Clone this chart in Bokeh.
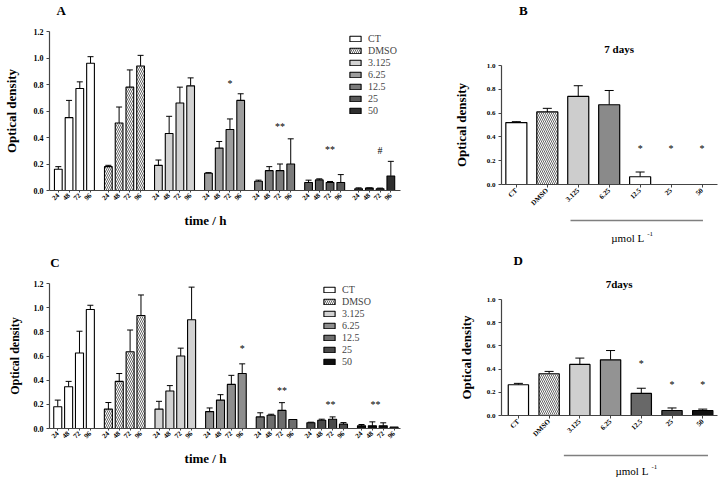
import math

from bokeh.core.properties import value
from bokeh.embed import file_html
from bokeh.layouts import column, row
from bokeh.models import (ColumnDataSource, FixedTicker, Legend, LegendItem,
                          PrintfTickFormatter, Range1d, TeeHead, Whisker)
from bokeh.plotting import figure
from bokeh.resources import INLINE

SERIF = "Liberation Serif"

# ---------------------------------------------------------------- data
treatments = ["CT", "DMSO", "3.125", "6.25", "12.5", "25", "50"]
hours = ["24", "48", "72", "96"]
od_ticks_time = [0.0, 0.2, 0.4, 0.6, 0.8, 1.0, 1.2]
od_ticks_dose = [0.0, 0.2, 0.4, 0.6, 0.8, 1.0]

# Panel A: optical density per treatment (rows) and exposure time (columns)
a_mean = [
    [0.16, 0.55, 0.77, 0.96],
    [0.18, 0.51, 0.78, 0.94],
    [0.19, 0.43, 0.66, 0.79],
    [0.13, 0.32, 0.46, 0.68],
    [0.07, 0.15, 0.15, 0.20],
    [0.06, 0.08, 0.06, 0.06],
    [0.013, 0.018, 0.013, 0.11],
]
a_sd = [
    [0.02, 0.13, 0.05, 0.05],
    [0.01, 0.12, 0.13, 0.08],
    [0.04, 0.13, 0.12, 0.06],
    [0.005, 0.05, 0.08, 0.05],
    [0.008, 0.03, 0.05, 0.19],
    [0.018, 0.008, 0.008, 0.06],
    [0.007, 0.002, 0.005, 0.11],
]
a_mark_group = [3, 4, 5, 6]
a_mark_hour = [2, 2, 2, 2]
a_mark_y = [0.81, 0.48, 0.31, 0.30]
a_mark_text = ["*", "**", "**", "#"]

# Panel C: second time course
c_mean = [
    [0.18, 0.345, 0.625, 0.985],
    [0.16, 0.39, 0.635, 0.935],
    [0.16, 0.31, 0.60, 0.90],
    [0.14, 0.235, 0.365, 0.455],
    [0.096, 0.11, 0.15, 0.074],
    [0.047, 0.068, 0.077, 0.036],
    [0.022, 0.022, 0.022, 0.011],
]
c_sd = [
    [0.055, 0.045, 0.18, 0.035],
    [0.055, 0.065, 0.18, 0.17],
    [0.065, 0.045, 0.065, 0.27],
    [0.03, 0.045, 0.075, 0.08],
    [0.034, 0.008, 0.064, 0.0],
    [0.005, 0.009, 0.019, 0.013],
    [0.011, 0.033, 0.025, 0.0],
]
c_mark_group = [3, 4, 5, 6]
c_mark_hour = [3, 2, 1.8, 1.3]
c_mark_y = [0.66, 0.315, 0.20, 0.20]
c_mark_text = ["*", "**", "**", "**"]

# Panels B and D: 7 days of exposure
b_mean = [0.52, 0.61, 0.74, 0.67, 0.065, 0.0, 0.0]
b_sd = [0.008, 0.03, 0.09, 0.12, 0.04, 0.0, 0.0]
b_mark_idx = [4, 5, 6]
b_mark_y = [0.30, 0.30, 0.30]

d_mean = [0.265, 0.36, 0.44, 0.48, 0.19, 0.043, 0.043]
d_sd = [0.012, 0.02, 0.055, 0.08, 0.045, 0.022, 0.012]
d_mark_idx = [4, 5, 6]
d_mark_y = [0.45, 0.27, 0.27]

# treated concentrations covered by the grey rule (first, last category)
b_rule = [1.75, 6.03]
d_rule = [1.48, 6.17]

# ---------------------------------------------------------------- styles
a_colors = ["white", "white", "#d2d2d2", "#9d9d9d", "#7b7b7b", "#595959", "#2e2e2e"]
c_colors = ["white", "white", "#d2d2d2", "#8e8e8e", "#6e6e6e", "#4a4a4a", "#0f0f0f"]
b_colors = ["white", "white", "#cdcdcd", "#8a8a8a", "white", "white", "white"]
d_colors = ["white", "white", "#cfcfcf", "#939393", "#686868", "#454545", "#111111"]

GROUP_STEP = 4.66
AXIS_COLOR = "#444444"


def bar_x(g, i):
    return round(g * GROUP_STEP + i, 3)


def hatch_kw(name):
    if name == "DMSO":
        return dict(hatch_pattern="\\", hatch_color="#555555", hatch_scale=4, hatch_weight=0.9)
    return {}


def style_axes(p, yticks, ylabel_size, ylabel_standoff):
    for ax in (p.xaxis[0], p.yaxis[0]):
        ax.axis_line_color = AXIS_COLOR
        ax.axis_line_width = 1.2
        ax.major_tick_line_color = AXIS_COLOR
        ax.major_tick_line_width = 1
        ax.minor_tick_line_color = None
        ax.major_tick_in = 0
        ax.major_label_text_font = SERIF
        ax.major_label_text_font_style = "bold"
        ax.major_label_text_color = "black"
    p.yaxis.major_tick_out = 3
    p.xaxis.major_tick_out = 2
    p.yaxis.ticker = FixedTicker(ticks=yticks)
    p.yaxis.formatter = PrintfTickFormatter(format="%.1f")
    p.yaxis.major_label_text_font_size = "8px"
    p.yaxis.major_label_standoff = 3
    p.yaxis.axis_label = "Optical density"
    p.yaxis.axis_label_text_font = SERIF
    p.yaxis.axis_label_text_font_style = "bold"
    p.yaxis.axis_label_text_font_size = f"{ylabel_size}px"
    p.yaxis.axis_label_text_color = "black"
    p.yaxis.axis_label_standoff = ylabel_standoff
    p.xaxis.major_label_orientation = math.pi / 4
    p.xaxis.major_label_text_font_size = "7px"
    p.xaxis.major_label_standoff = 2
    p.xgrid.visible = False
    p.ygrid.visible = False
    p.outline_line_color = None


def add_whiskers(p, xs, tops, sds, head=7):
    keep = [k for k, s in enumerate(sds) if s > 0]
    src = ColumnDataSource(dict(
        x=[xs[k] for k in keep],
        low=[tops[k] for k in keep],
        up=[tops[k] + sds[k] for k in keep],
    ))
    p.add_layout(Whisker(source=src, base="x", lower="low", upper="up", dimension="height",
                         line_color="black", line_width=1, lower_head=None,
                         upper_head=TeeHead(size=head, line_color="black", line_width=1)))


def strip(width, height, x_range=None, left=0, right=0):
    """Axis-free band used for panel letters, headings and axis titles."""
    xr = x_range if x_range is not None else Range1d(0, width)
    s = figure(width=width, height=height, x_range=xr, y_range=Range1d(height, 0),
               x_axis_type=None, y_axis_type=None, output_backend="svg",
               toolbar_location=None, title=None, min_border=0,
               min_border_left=left, min_border_right=right)
    s.outline_line_color = None
    s.background_fill_color = "white"
    s.border_fill_color = "white"
    return s


def put_text(s, x, y, text, size, bold=True, align="left", baseline="middle"):
    s.text(x=[x], y=[y], text=[text], text_font=value(SERIF), text_font_size=f"{size}px",
           text_font_style="bold" if bold else "normal", text_align=align,
           text_baseline=baseline, text_color="black")


def time_panel(mean, sd, colors, mk_group, mk_hour, mk_y, mk_text, *, width, height,
               border, x_lo, x_hi, bar_w, legend_at, ylabel_size, ylabel_standoff):
    left, right, top, bottom = border
    p = figure(width=width, height=height, x_range=Range1d(x_lo, x_hi),
               y_range=Range1d(0, 1.2), output_backend="svg", toolbar_location=None,
               title=None, min_border_left=left, min_border_right=right,
               min_border_top=top, min_border_bottom=bottom)
    p.background_fill_color = "white"
    p.border_fill_color = "white"

    ticks, overrides, items = [], {}, []
    for g, name in enumerate(treatments):
        xs = [bar_x(g, i) for i in range(len(hours))]
        src = ColumnDataSource(dict(x=xs, top=mean[g]))
        r = p.vbar(x="x", top="top", width=bar_w, source=src, fill_color=colors[g],
                   line_color="black", line_width=1.1, **hatch_kw(name))
        add_whiskers(p, xs, mean[g], sd[g], head=6)
        items.append(LegendItem(label=name, renderers=[r]))
        for x, h in zip(xs, hours):
            ticks.append(x)
            overrides[x] = h

    mx = [bar_x(g, h) for g, h in zip(mk_group, mk_hour)]
    p.text(x=mx, y=mk_y, text=mk_text, text_font=value(SERIF), text_font_size="10px",
           text_align="center", text_baseline="middle", text_color="black")

    style_axes(p, od_ticks_time, ylabel_size, ylabel_standoff)
    p.xaxis.ticker = FixedTicker(ticks=ticks)
    p.xaxis.major_label_overrides = overrides

    legend = Legend(items=items, location=legend_at, orientation="vertical",
                    label_text_font=SERIF, label_text_font_size="10px",
                    glyph_width=14, glyph_height=7, label_height=10, label_standoff=6,
                    spacing=1, padding=0, margin=0, border_line_color=None,
                    background_fill_alpha=0)
    p.add_layout(legend)
    return p


def dose_panel(mean, sd, colors, mk_idx, mk_y, *, width, height, border, x_lo, x_hi,
               bar_w, ylabel_standoff):
    left, right, top, bottom = border
    p = figure(width=width, height=height, x_range=Range1d(x_lo, x_hi),
               y_range=Range1d(0, 1.0), output_backend="svg", toolbar_location=None,
               title=None, min_border_left=left, min_border_right=right,
               min_border_top=top, min_border_bottom=bottom)
    p.background_fill_color = "white"
    p.border_fill_color = "white"

    xs = list(range(len(treatments)))
    for i, name in enumerate(treatments):
        if mean[i] <= 0:
            continue
        p.vbar(x=[i], top=[mean[i]], width=bar_w, fill_color=colors[i],
               line_color="black", line_width=1.2, **hatch_kw(name))
    add_whiskers(p, xs, mean, sd, head=9)

    p.text(x=mk_idx, y=mk_y, text=["*"] * len(mk_idx), text_font=value(SERIF),
           text_font_size="10px", text_align="center", text_baseline="middle",
           text_color="black")

    style_axes(p, od_ticks_dose, 13, ylabel_standoff)
    p.yaxis.major_label_text_font_size = "7px"
    p.xaxis.ticker = FixedTicker(ticks=xs)
    p.xaxis.major_label_overrides = {i: n for i, n in enumerate(treatments)}
    p.xaxis.major_tick_out = 3
    return p


def unit_strip(panel, rule, width, height, left, right, rule_y, text_y, text_x):
    """Grey rule under the treated concentrations plus the concentration unit."""
    s = strip(width, height, x_range=panel.x_range, left=left, right=right)
    s.segment(x0=[rule[0]], y0=[rule_y], x1=[rule[1]], y1=[rule_y],
              line_color="#7f7f7f", line_width=1.5)
    put_text(s, text_x, text_y, "µmol L", 11, bold=False, align="right")
    put_text(s, text_x + 0.1, text_y - 4, "-1", 7, bold=False, align="left")
    return s


# ---------------------------------------------------------------- left column
pa = time_panel(a_mean, a_sd, a_colors, a_mark_group, a_mark_hour, a_mark_y, a_mark_text,
                width=450, height=187, border=(43, 47, 11, 17), x_lo=-0.82, x_hi=31.86,
                bar_w=0.72, legend_at=(299, 74), ylabel_size=13, ylabel_standoff=12)
pc = time_panel(c_mean, c_sd, c_colors, c_mark_group, c_mark_hour, c_mark_y, c_mark_text,
                width=450, height=173, border=(39, 50, 11, 17), x_lo=-0.76, x_hi=31.55,
                bar_w=0.74, legend_at=(273, 61), ylabel_size=12, ylabel_standoff=9)

top_a = strip(450, 20)
put_text(top_a, 9, 10, "A", 13, baseline="alphabetic")

mid_ac = strip(450, 65)
put_text(mid_ac, 200, 13, "time / h", 13, align="center")
put_text(mid_ac, 1, 55, "C", 13, baseline="alphabetic")

bot_c = strip(450, 40)
put_text(bot_c, 200, 13, "time / h", 13, align="center")

# ---------------------------------------------------------------- right column
pb = dose_panel(b_mean, b_sd, b_colors, b_mark_idx, b_mark_y, width=270, height=156,
                border=(47, 3, 7, 30), x_lo=-0.48, x_hi=6.5, bar_w=0.68, ylabel_standoff=15)
pd_ = dose_panel(d_mean, d_sd, d_colors, d_mark_idx, d_mark_y, width=270, height=155,
                 border=(42, 3, 7, 32), x_lo=-0.55, x_hi=6.48, bar_w=0.66,
                 ylabel_standoff=10)

top_b = strip(270, 58)
put_text(top_b, 22, 10, "B", 13, baseline="alphabetic")
put_text(top_b, 147, 48, "7 days", 11, align="center")

unit_b = unit_strip(pb, b_rule, 270, 30, 47, 3, rule_y=6, text_y=23, text_x=4.13)

top_d = strip(270, 48)
put_text(top_d, 15, 16, "D", 13, baseline="alphabetic")
put_text(top_d, 147, 39, "7days", 11, align="center")

unit_d = unit_strip(pd_, d_rule, 270, 38, 42, 3, rule_y=8, text_y=23, text_x=4.23)

page = row(column(top_a, pa, mid_ac, pc, bot_c),
           column(top_b, pb, unit_b, top_d, pd_, unit_d))

with open("out.html", "w") as f:
    f.write(file_html(page, INLINE))
